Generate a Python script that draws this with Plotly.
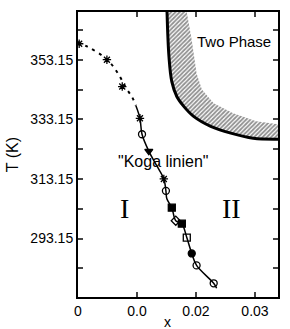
import plotly.graph_objects as go

# --- data (x mole fraction, T in K) ---
dash_x = [0.0, 0.0016, 0.0039, 0.0056, 0.0070, 0.0081, 0.0092, 0.0098]
dash_T = [359.15, 357.5, 354.8, 351.8, 347.8, 343.8, 340.5, 337.8]

line_x = [0.0098, 0.0105, 0.01085, 0.0120, 0.01337, 0.01455, 0.0149, 0.01506, 0.0159,
          0.01657, 0.0176, 0.01844, 0.01928, 0.0201, 0.0230, 0.0235]
line_T = [337.8, 333.5, 328.15, 322.5, 317.5, 313.15, 309.15, 306.5, 303.5,
          299.15, 298.15, 293.5, 288.15, 284.15, 278.15, 276.5]

star_x = [0.0002, 0.0049, 0.0075, 0.0105, 0.01455]
star_T = [358.5, 353.15, 344.15, 333.5, 313.15]
ocirc_x = [0.01085, 0.0149, 0.0201, 0.0230]
ocirc_T = [328.15, 309.15, 284.15, 278.15]
fsq_x = [0.0159, 0.0176]
fsq_T = [303.5, 298.15]
odia_x = [0.01657]
odia_T = [299.15]
osq_x = [0.01844]
osq_T = [293.5]
fcirc_x = [0.01928]
fcirc_T = [288.15]
ftri_x = [0.0120]
ftri_T = [322.5]

band_lo_x = [0.01509, 0.01542, 0.0159, 0.01675, 0.01793, 0.0196, 0.0225, 0.0259, 0.0297, 0.0339]
band_lo_T = [369.15, 354.15, 345.8, 340.8, 337.5, 334.15, 330.8, 328.5, 326.8, 326.5]
band_hi_x = [0.01843, 0.01927, 0.0201, 0.0210, 0.0230, 0.0263, 0.0302, 0.0339]
band_hi_T = [369.15, 359.8, 348.5, 343.15, 338.5, 335.15, 332.5, 331.5]

y_ticks = [283.15, 293.15, 303.15, 313.15, 323.15, 333.15, 343.15, 353.15, 363.15]
y_text = ["", "293.15", "", "313.15", "", "333.15", "", "353.15", ""]
x_ticks = [0.0, 0.01, 0.02, 0.03]
x_text = ["0", "0.0", "0.02", "0.03"]

fig = go.Figure()

# hatched two-phase band
fig.add_trace(go.Scatter(
    x=band_lo_x + band_hi_x[::-1], y=band_lo_T + band_hi_T[::-1],
    mode="lines", line=dict(width=0, color="black"), fill="toself",
    fillcolor="white",
    fillpattern=dict(shape="/", size=3, solidity=0.6, fgcolor="#222", bgcolor="white"),
    showlegend=False, hoverinfo="skip"))
fig.add_trace(go.Scatter(x=band_lo_x, y=band_lo_T, mode="lines",
                         line=dict(color="black", width=3, shape="spline"), showlegend=False))

fig.add_trace(go.Scatter(x=dash_x, y=dash_T, mode="lines",
                         line=dict(color="black", width=2, dash="3px,5px", shape="spline"),
                         showlegend=False))
fig.add_trace(go.Scatter(x=line_x, y=line_T, mode="lines",
                         line=dict(color="black", width=1.5, shape="spline"), showlegend=False))

def mk(x, y, sym, size=7):
    fig.add_trace(go.Scatter(x=x, y=y, mode="markers",
                             marker=dict(symbol=sym, size=size, color="black",
                                         line=dict(color="black", width=1.3)),
                             showlegend=False))

mk(star_x, star_T, "asterisk-open", 7)
mk(ocirc_x, ocirc_T, "circle-open", 7)
mk(fsq_x, fsq_T, "square", 7)
mk(odia_x, odia_T, "diamond-open", 7)
mk(osq_x, osq_T, "square-open", 7)
mk(fcirc_x, fcirc_T, "circle", 7)
mk(ftri_x, ftri_T, "triangle-down", 7)

ann = [
    dict(x=0.02636, y=359.15, text="Two Phase", font=dict(size=15)),
    dict(x=0.01456, y=319.15, text="\"Koga linien\"", font=dict(size=16)),
    dict(x=0.0078, y=303.15, text="I", font=dict(size=28, family="Liberation Serif, serif")),
    dict(x=0.02605, y=303.15, text="II", font=dict(size=28, family="Liberation Serif, serif")),
]
annotations = [dict(a, xref="x", yref="y", showarrow=False) for a in ann]
annotations.append(dict(x=(168 - 78) / (280 - 78), y=0, xref="paper", yref="paper",
                        yanchor="top", yshift=-15, text="x", showarrow=False,
                        font=dict(size=14)))

fig.update_layout(
    width=290, height=329,
    margin=dict(l=78, r=10, t=10, b=32),
    plot_bgcolor="white", paper_bgcolor="white",
    font=dict(family="Liberation Sans, Arial, sans-serif", size=14, color="black"),
    annotations=annotations,
    xaxis=dict(range=[0, 0.0339], tickvals=x_ticks, ticktext=x_text, ticks="inside",
               ticklen=5, tickwidth=1.5, showline=True, linewidth=2, linecolor="black",
               mirror="ticks", showgrid=False, zeroline=False, tickfont=dict(size=14)),
    yaxis=dict(range=[273.55, 369.15], tickvals=y_ticks, ticktext=y_text, ticks="inside",
               ticklen=5, tickwidth=2, showline=True, linewidth=2, linecolor="black",
               mirror="ticks", showgrid=False, zeroline=False, tickfont=dict(size=14),
               title=dict(text="T (K)", font=dict(size=16), standoff=8)),
)

fig.write_html("out.html")
